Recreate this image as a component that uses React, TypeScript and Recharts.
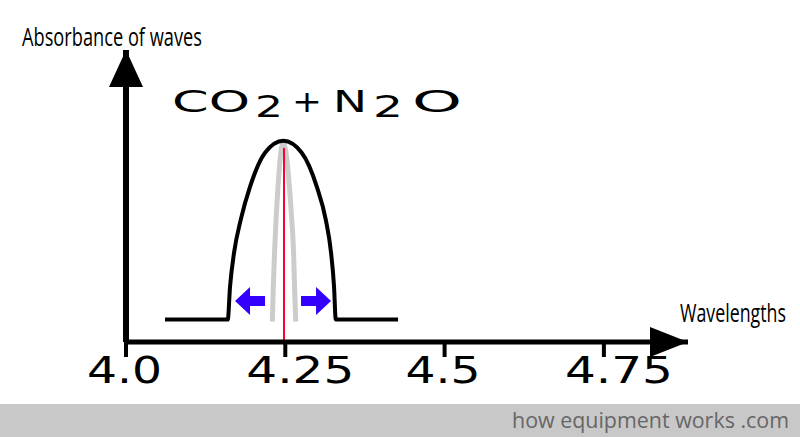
import { LineChart, Line, XAxis, YAxis, ReferenceLine, ReferenceDot } from 'recharts';

// broad absorption band (black)
const wavelength = [4.0612, 4.1597, 4.1633, 4.1696, 4.1801, 4.1947, 4.2182, 4.2469, 4.2758, 4.2994, 4.3135, 4.3218, 4.3265, 4.3292, 4.427];
const absorbance = [0.077, 0.077, 0.19, 0.306, 0.419, 0.532, 0.648, 0.689, 0.648, 0.532, 0.419, 0.306, 0.19, 0.077, 0.077];

// narrow CO2 band (grey)
const narrowWavelength = [4.2297, 4.2312, 4.2331, 4.2355, 4.2386, 4.2429, 4.2469, 4.2512, 4.2564, 4.2601, 4.263, 4.2645, 4.2664];
const narrowAbsorbance = [0.07, 0.19, 0.306, 0.419, 0.532, 0.648, 0.682, 0.648, 0.532, 0.419, 0.306, 0.19, 0.07];

const peakWavelength = 4.248;
const peakTop = 0.665;

// widening arrows: [from, to] at one height
const arrowLeft = [4.2182, 4.1711];
const arrowRight = [4.2747, 4.3218];
const arrowLevel = 0.14;

const ticks = [4.0, 4.25, 4.5, 4.75];
const tickLabels = ['4.0', '4.25', '4.5', '4.75'];

const xMin = 4.0;
const xMax = 4.882;
const yMax = 1;

const band = wavelength.map((x, i) => ({ x, y: absorbance[i] }));
const narrow = narrowWavelength.map((x, i) => ({ x, y: narrowAbsorbance[i] }));

const BlueArrow = (p: any) => {
  const { x1, y1, x2 } = p;
  const dir = x2 > x1 ? 1 : -1;
  const headLen = 15;
  const hx = x2 - dir * headLen;
  const pts = [
    [x1, y1 - 5], [hx, y1 - 5], [hx, y1 - 14], [x2, y1],
    [hx, y1 + 14], [hx, y1 + 5], [x1, y1 + 5],
  ].map((q) => q.join(',')).join(' ');
  return <polygon points={pts} fill="#3300ff" />;
};

const RightHead = (p: any) => (
  <polygon points={`${p.cx},${p.cy} ${p.cx - 38},${p.cy - 15} ${p.cx - 38},${p.cy + 15}`} fill="#000" />
);
const UpHead = (p: any) => (
  <polygon points={`${p.cx},${p.cy} ${p.cx - 17},${p.cy + 37} ${p.cx + 17},${p.cy + 37}`} fill="#000" />
);

const Tick = (p: any) => {
  const label = tickLabels[ticks.indexOf(p.payload.value)];
  return (
    <text
      x={p.x - 39}
      y={383}
      textAnchor="start"
      fontFamily="'DejaVu Sans', sans-serif"
      fontSize={38}
      fill="#000"
      textLength={label.length * 33 - 24}
      lengthAdjust="spacingAndGlyphs"
    >
      {label}
    </text>
  );
};

export default function App() {
  return (
    <div style={{ position: 'absolute', left: 0, top: 0, width: 800, height: 437, background: '#fff' }}>
      <LineChart width={800} height={437} margin={{ top: 50, left: 126, right: 112, bottom: 45 }}>
        <XAxis
          type="number"
          dataKey="x"
          domain={[xMin, xMax]}
          ticks={ticks}
          interval={0}
          allowDataOverflow
          height={50}
          tickSize={15}
          tickLine={{ stroke: '#000', strokeWidth: 4 }}
          axisLine={{ stroke: '#000', strokeWidth: 5 }}
          tick={<Tick />}
        />
        <YAxis type="number" dataKey="y" domain={[0, yMax]} hide />
        <ReferenceLine
          segment={[{ x: xMin, y: 0 }, { x: xMin, y: yMax }]}
          stroke="#000"
          strokeWidth={6}
          ifOverflow="visible"
        />
        <Line data={narrow} dataKey="y" type="monotone" stroke="#cccccc" strokeWidth={5} dot={false} isAnimationActive={false} />
        <ReferenceLine
          segment={[{ x: peakWavelength, y: 0 }, { x: peakWavelength, y: peakTop }]}
          stroke="#ff0033"
          strokeWidth={2}
        />
        <Line data={band} dataKey="y" type="monotone" stroke="#000" strokeWidth={4} dot={false} isAnimationActive={false} />
        <ReferenceLine segment={[{ x: arrowLeft[0], y: arrowLevel }, { x: arrowLeft[1], y: arrowLevel }]} shape={BlueArrow} />
        <ReferenceLine segment={[{ x: arrowRight[0], y: arrowLevel }, { x: arrowRight[1], y: arrowLevel }]} shape={BlueArrow} />
        <ReferenceDot x={xMax} y={0} ifOverflow="visible" shape={RightHead} />
        <ReferenceDot x={xMin} y={yMax} ifOverflow="visible" shape={UpHead} />
      </LineChart>
      <svg width={800} height={437} style={{ position: 'absolute', left: 0, top: 0, pointerEvents: 'none' }}>
        <g fontFamily="'Open Sans', sans-serif" fill="#000">
          <text x={22} y={46} fontSize={25} textLength={180} lengthAdjust="spacingAndGlyphs">Absorbance of waves</text>
          <text x={786} y={322} fontSize={25} textAnchor="end" textLength={106} lengthAdjust="spacingAndGlyphs">Wavelengths</text>
        </g>
        <g fontFamily="'DejaVu Sans', sans-serif" fill="#000">
          <text x={172} y={112} fontSize={30} textLength={78} lengthAdjust="spacingAndGlyphs">CO</text>
          <text x={255} y={117} fontSize={30} textLength={28} lengthAdjust="spacingAndGlyphs">2</text>
          <text x={292} y={112} fontSize={30} textLength={30} lengthAdjust="spacingAndGlyphs">+</text>
          <text x={333} y={112} fontSize={30} textLength={34} lengthAdjust="spacingAndGlyphs">N</text>
          <text x={373} y={117} fontSize={30} textLength={30} lengthAdjust="spacingAndGlyphs">2</text>
          <text x={412} y={112} fontSize={30} textLength={50} lengthAdjust="spacingAndGlyphs">O</text>
        </g>
        <rect x={0} y={404} width={800} height={33} fill="#c8c8c8" />
        <text x={512} y={428} fontFamily="'Open Sans', sans-serif" fontSize={22} fill="#666" textLength={277} lengthAdjust="spacingAndGlyphs">
          how equipment works .com
        </text>
      </svg>
    </div>
  );
}
